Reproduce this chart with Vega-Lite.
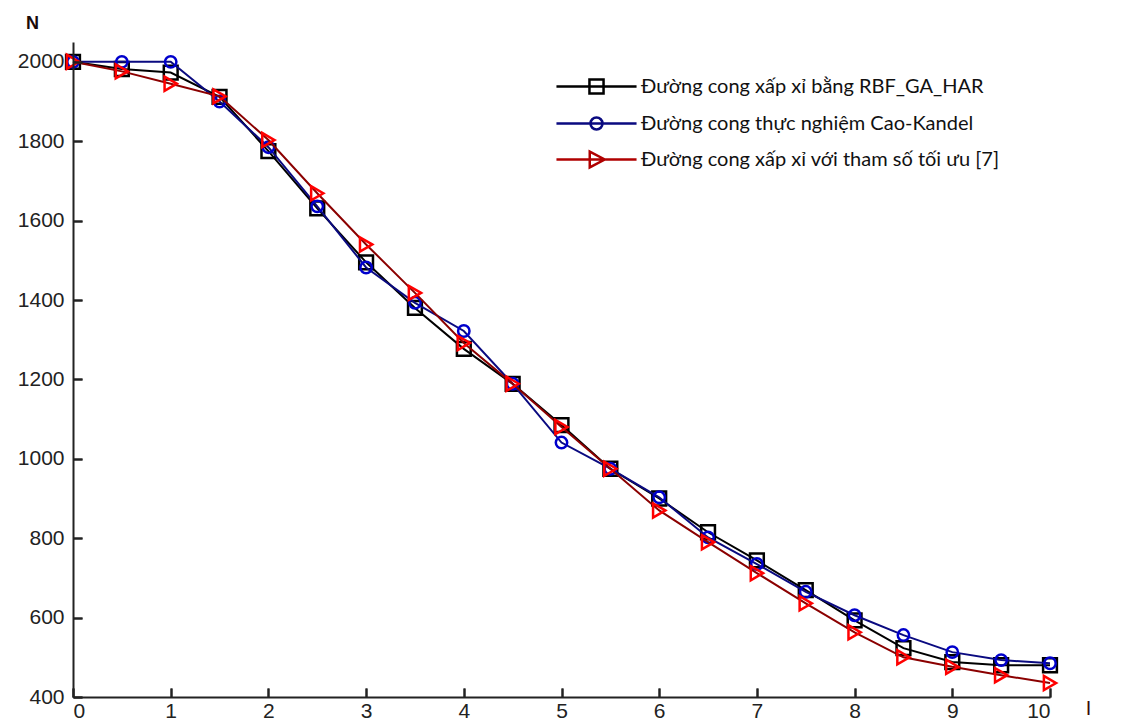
{
  "$schema": "https://vega.github.io/schema/vega-lite/v6.json",
  "width": 977,
  "height": 655,
  "autosize": "none",
  "padding": {"left": 73, "top": 42, "right": 79, "bottom": 30},
  "background": "white",
  "config": {"view": {"stroke": null}},
  "data": {
    "values": [
      {"x": 0, "N": 2000, "series": "Đường cong xấp xỉ bằng RBF_GA_HAR"},
      {"x": 0.5, "N": 1982, "series": "Đường cong xấp xỉ bằng RBF_GA_HAR"},
      {"x": 1, "N": 1973, "series": "Đường cong xấp xỉ bằng RBF_GA_HAR"},
      {"x": 1.5, "N": 1912, "series": "Đường cong xấp xỉ bằng RBF_GA_HAR"},
      {"x": 2, "N": 1775, "series": "Đường cong xấp xỉ bằng RBF_GA_HAR"},
      {"x": 2.5, "N": 1631, "series": "Đường cong xấp xỉ bằng RBF_GA_HAR"},
      {"x": 3, "N": 1495, "series": "Đường cong xấp xỉ bằng RBF_GA_HAR"},
      {"x": 3.5, "N": 1380, "series": "Đường cong xấp xỉ bằng RBF_GA_HAR"},
      {"x": 4, "N": 1277, "series": "Đường cong xấp xỉ bằng RBF_GA_HAR"},
      {"x": 4.5, "N": 1189, "series": "Đường cong xấp xỉ bằng RBF_GA_HAR"},
      {"x": 5, "N": 1085, "series": "Đường cong xấp xỉ bằng RBF_GA_HAR"},
      {"x": 5.5, "N": 975, "series": "Đường cong xấp xỉ bằng RBF_GA_HAR"},
      {"x": 6, "N": 900, "series": "Đường cong xấp xỉ bằng RBF_GA_HAR"},
      {"x": 6.5, "N": 815, "series": "Đường cong xấp xỉ bằng RBF_GA_HAR"},
      {"x": 7, "N": 744, "series": "Đường cong xấp xỉ bằng RBF_GA_HAR"},
      {"x": 7.5, "N": 669, "series": "Đường cong xấp xỉ bằng RBF_GA_HAR"},
      {"x": 8, "N": 593, "series": "Đường cong xấp xỉ bằng RBF_GA_HAR"},
      {"x": 8.5, "N": 523, "series": "Đường cong xấp xỉ bằng RBF_GA_HAR"},
      {"x": 9, "N": 488, "series": "Đường cong xấp xỉ bằng RBF_GA_HAR"},
      {"x": 9.5, "N": 480, "series": "Đường cong xấp xỉ bằng RBF_GA_HAR"},
      {"x": 10, "N": 480, "series": "Đường cong xấp xỉ bằng RBF_GA_HAR"},
      {"x": 0, "N": 2000, "series": "Đường cong thực nghiệm Cao-Kandel"},
      {"x": 0.5, "N": 2000, "series": "Đường cong thực nghiệm Cao-Kandel"},
      {"x": 1, "N": 2000, "series": "Đường cong thực nghiệm Cao-Kandel"},
      {"x": 1.5, "N": 1900, "series": "Đường cong thực nghiệm Cao-Kandel"},
      {"x": 2, "N": 1785, "series": "Đường cong thực nghiệm Cao-Kandel"},
      {"x": 2.5, "N": 1636, "series": "Đường cong thực nghiệm Cao-Kandel"},
      {"x": 3, "N": 1482, "series": "Đường cong thực nghiệm Cao-Kandel"},
      {"x": 3.5, "N": 1393, "series": "Đường cong thực nghiệm Cao-Kandel"},
      {"x": 4, "N": 1322, "series": "Đường cong thực nghiệm Cao-Kandel"},
      {"x": 4.5, "N": 1189, "series": "Đường cong thực nghiệm Cao-Kandel"},
      {"x": 5, "N": 1041, "series": "Đường cong thực nghiệm Cao-Kandel"},
      {"x": 5.5, "N": 975, "series": "Đường cong thực nghiệm Cao-Kandel"},
      {"x": 6, "N": 903, "series": "Đường cong thực nghiệm Cao-Kandel"},
      {"x": 6.5, "N": 802, "series": "Đường cong thực nghiệm Cao-Kandel"},
      {"x": 7, "N": 735, "series": "Đường cong thực nghiệm Cao-Kandel"},
      {"x": 7.5, "N": 665, "series": "Đường cong thực nghiệm Cao-Kandel"},
      {"x": 8, "N": 606, "series": "Đường cong thực nghiệm Cao-Kandel"},
      {"x": 8.5, "N": 556, "series": "Đường cong thực nghiệm Cao-Kandel"},
      {"x": 9, "N": 513, "series": "Đường cong thực nghiệm Cao-Kandel"},
      {"x": 9.5, "N": 493, "series": "Đường cong thực nghiệm Cao-Kandel"},
      {"x": 10, "N": 485, "series": "Đường cong thực nghiệm Cao-Kandel"},
      {"x": 0, "N": 2000, "series": "Đường cong xấp xỉ với tham số tối ưu [7]"},
      {"x": 0.5, "N": 1976, "series": "Đường cong xấp xỉ với tham số tối ưu [7]"},
      {"x": 1, "N": 1945, "series": "Đường cong xấp xỉ với tham số tối ưu [7]"},
      {"x": 1.5, "N": 1913, "series": "Đường cong xấp xỉ với tham số tối ưu [7]"},
      {"x": 2, "N": 1803, "series": "Đường cong xấp xỉ với tham số tối ưu [7]"},
      {"x": 2.5, "N": 1669, "series": "Đường cong xấp xỉ với tham số tối ưu [7]"},
      {"x": 3, "N": 1540, "series": "Đường cong xấp xỉ với tham số tối ưu [7]"},
      {"x": 3.5, "N": 1418, "series": "Đường cong xấp xỉ với tham số tối ưu [7]"},
      {"x": 4, "N": 1292, "series": "Đường cong xấp xỉ với tham số tối ưu [7]"},
      {"x": 4.5, "N": 1189, "series": "Đường cong xấp xỉ với tham số tối ưu [7]"},
      {"x": 5, "N": 1080, "series": "Đường cong xấp xỉ với tham số tối ưu [7]"},
      {"x": 5.5, "N": 975, "series": "Đường cong xấp xỉ với tham số tối ưu [7]"},
      {"x": 6, "N": 870, "series": "Đường cong xấp xỉ với tham số tối ưu [7]"},
      {"x": 6.5, "N": 790, "series": "Đường cong xấp xỉ với tham số tối ưu [7]"},
      {"x": 7, "N": 712, "series": "Đường cong xấp xỉ với tham số tối ưu [7]"},
      {"x": 7.5, "N": 636, "series": "Đường cong xấp xỉ với tham số tối ưu [7]"},
      {"x": 8, "N": 563, "series": "Đường cong xấp xỉ với tham số tối ưu [7]"},
      {"x": 8.5, "N": 500, "series": "Đường cong xấp xỉ với tham số tối ưu [7]"},
      {"x": 9, "N": 476, "series": "Đường cong xấp xỉ với tham số tối ưu [7]"},
      {"x": 9.5, "N": 455, "series": "Đường cong xấp xỉ với tham số tối ưu [7]"},
      {"x": 10, "N": 435, "series": "Đường cong xấp xỉ với tham số tối ưu [7]"}
    ]
  },
  "encoding": {
    "x": {
      "field": "x",
      "type": "quantitative",
      "scale": {"domain": [0, 10], "nice": false},
      "axis": {
        "grid": true,
        "gridColor": "#222222",
        "gridWidth": 2,
        "gridOpacity": 1,
        "gridDash": [9, 646],
        "gridDashOffset": 9,
        "zindex": 1,
        "tickCount": 10,
        "format": "d",
        "tickSize": -9,
        "tickColor": "#222222",
        "tickWidth": 2,
        "domainColor": "#222222",
        "domainWidth": 2,
        "labelPadding": 12,
        "labelFont": "Liberation Sans",
        "labelFontSize": 21,
        "labelColor": "#222222",
        "title": "I",
        "titleX": 1015,
        "titleY": 11,
        "titleAlign": "center",
        "titleBaseline": "middle",
        "titleFont": "Liberation Sans",
        "titleFontSize": 20,
        "titleFontWeight": "normal",
        "titleColor": "#3a0a0a"
      }
    },
    "y": {
      "field": "N",
      "type": "quantitative",
      "scale": {"domain": [400, 2050], "nice": false, "zero": false},
      "axis": {
        "grid": true,
        "gridColor": "#222222",
        "gridWidth": 2,
        "gridOpacity": 1,
        "gridDash": [9, 1000],
        "gridDashOffset": 0,
        "zindex": 1,
        "tickCount": 8,
        "format": "d",
        "tickSize": -9,
        "tickColor": "#222222",
        "tickWidth": 2,
        "domainColor": "#222222",
        "domainWidth": 2,
        "labelPadding": 18,
        "labelFont": "Liberation Sans",
        "labelFontSize": 21,
        "labelColor": "#222222",
        "title": "N",
        "titleAngle": 0,
        "titleX": -41,
        "titleY": -19,
        "titleAlign": "center",
        "titleBaseline": "middle",
        "titleFont": "Liberation Sans",
        "titleFontSize": 18,
        "titleFontWeight": "bold",
        "titleColor": "#1a0a0a"
      }
    }
  },
  "layer": [
    {
      "transform": [{"filter": "datum.series == 'Đường cong xấp xỉ bằng RBF_GA_HAR'"}],
      "mark": {"type": "line", "color": "#000000", "strokeWidth": 2}
    },
    {
      "transform": [{"filter": "datum.series == 'Đường cong xấp xỉ bằng RBF_GA_HAR'"}],
      "mark": {"type": "point", "shape": "square", "size": 190, "filled": false, "color": "#000000", "strokeWidth": 2.5, "opacity": 1}
    },
    {
      "transform": [{"filter": "datum.series == 'Đường cong thực nghiệm Cao-Kandel'"}],
      "mark": {"type": "line", "color": "#0a0a80", "strokeWidth": 2}
    },
    {
      "transform": [{"filter": "datum.series == 'Đường cong thực nghiệm Cao-Kandel'"}],
      "mark": {"type": "point", "shape": "circle", "size": 130, "filled": false, "color": "#0000cc", "strokeWidth": 2.5, "opacity": 1}
    },
    {
      "transform": [{"filter": "datum.series == 'Đường cong xấp xỉ với tham số tối ưu [7]'"}],
      "mark": {"type": "line", "color": "#8b0000", "strokeWidth": 2}
    },
    {
      "transform": [{"filter": "datum.series == 'Đường cong xấp xỉ với tham số tối ưu [7]'"}],
      "mark": {"type": "point", "shape": "triangle-right", "size": 200, "filled": false, "color": "#ff0000", "strokeWidth": 2.5, "opacity": 1}
    },
    {
      "mark": {"type": "point", "filled": false, "opacity": 0, "strokeWidth": 2.5},
      "encoding": {
        "shape": {
          "field": "series",
          "type": "nominal",
          "scale": {
            "domain": ["Đường cong xấp xỉ bằng RBF_GA_HAR", "Đường cong thực nghiệm Cao-Kandel", "Đường cong xấp xỉ với tham số tối ưu [7]"],
            "range": [
              "M-2.67,0H2.67M-0.47,-0.47H0.47V0.47H-0.47Z",
              "M-2.67,0H2.67M-0.4,0A0.4,0.4 0 1,0 0.4,0A0.4,0.4 0 1,0 -0.4,0Z",
              "M-2.67,0H2.67M-0.45,-0.53L0.55,0L-0.45,0.53Z"
            ]
          },
          "legend": {
            "title": null,
            "orient": "none",
            "legendX": 507,
            "legendY": 28,
            "padding": 0,
            "labelFont": "Lato",
            "labelFontSize": 20,
            "labelColor": "#111111",
            "labelLimit": 600,
            "labelOffset": 28,
            "symbolSize": 900,
            "symbolStrokeWidth": 2.5,
            "symbolOpacity": 1,
            "rowPadding": 8,
            "encode": {"symbols": {"update": {"opacity": {"value": 1}}}}
          }
        },
        "color": {
          "field": "series",
          "type": "nominal",
          "scale": {
            "domain": ["Đường cong xấp xỉ bằng RBF_GA_HAR", "Đường cong thực nghiệm Cao-Kandel", "Đường cong xấp xỉ với tham số tối ưu [7]"],
            "range": ["#000000", "#0a0a80", "#b00000"]
          },
          "legend": {
            "title": null,
            "orient": "none",
            "legendX": 507,
            "legendY": 28,
            "padding": 0,
            "labelFont": "Lato",
            "labelFontSize": 20,
            "labelColor": "#111111",
            "labelLimit": 600,
            "labelOffset": 28,
            "symbolSize": 900,
            "symbolStrokeWidth": 2.5,
            "symbolOpacity": 1,
            "rowPadding": 8,
            "encode": {"symbols": {"update": {"opacity": {"value": 1}}}}
          }
        }
      }
    }
  ]
}
